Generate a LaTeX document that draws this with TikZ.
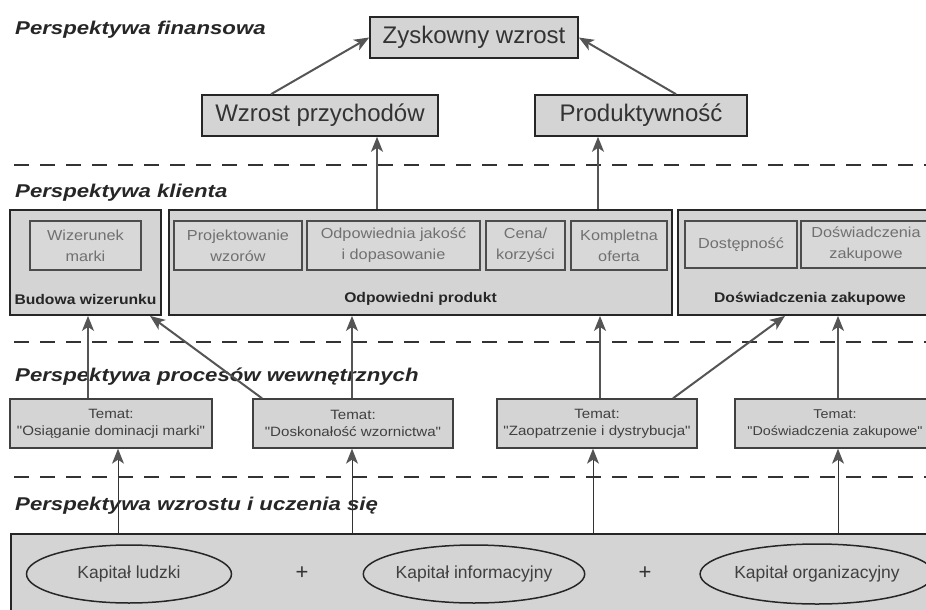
\documentclass[tikz,border=0pt]{standalone}
\usepackage{fontspec}
\setmainfont{Liberation Sans}
\newfontfamily\widef[FakeStretch=1.12]{Liberation Sans}
\newfontfamily\hdrf[FakeStretch=1.2]{Liberation Sans}
\usetikzlibrary{arrows.meta,shapes.geometric}
\definecolor{boxfill}{HTML}{D4D4D4}
\definecolor{innerfill}{HTML}{D8D8D8}
\definecolor{arrgray}{HTML}{555555}
\definecolor{innertext}{HTML}{707070}
\definecolor{proctext}{HTML}{404040}
\tikzset{
  bigbox/.style={draw=black!85,line width=1.6pt,fill=boxfill,inner sep=0pt,minimum height=41pt,
    font=\fontsize{24}{28}\selectfont,text=black!80},
  groupbox/.style={draw=black!85,line width=1.8pt,fill=boxfill,inner sep=0pt,minimum height=105pt},
  innerbox/.style={draw=black!70,line width=1.2pt,fill=innerfill,inner sep=0pt,minimum height=49pt,
    align=center,font=\widef\fontsize{14.5}{21}\selectfont,text=innertext},
  grouplabel/.style={font=\widef\bfseries\fontsize{14}{16}\selectfont,text=black!85,inner sep=0pt},
  procbox/.style={draw=black!75,line width=1.4pt,fill=boxfill,inner sep=0pt,minimum height=49pt,
    align=center,font=\widef\fontsize{13.5}{17}\selectfont,text=proctext},
  hdr/.style={anchor=west,inner sep=0pt,font=\hdrf\bfseries\itshape\fontsize{18.5}{20}\selectfont,text=black!85},
  oval/.style={ellipse,draw=black!85,line width=1.5pt,fill=boxfill,inner sep=0pt,
    font=\fontsize{17.5}{20}\selectfont,text=proctext},
  sep/.style={draw=black!80,line width=2pt,dash pattern=on 15pt off 11pt},
  arr/.style={draw=arrgray,line width=2pt,-{Stealth[length=15pt,width=12pt,inset=4pt]}},
  thinarr/.style={draw=black!80,line width=1pt,-{Stealth[length=15pt,width=12pt,inset=4pt,color=arrgray,fill=arrgray]}},
}
\begin{document}
\begin{tikzpicture}[x=1pt,y=-1pt]
\useasboundingbox (0,0) rectangle (926,610);
\clip (0,0) rectangle (926,610);

% separators
\coordinate (sL1) at (14,165); \coordinate (sR1) at (930,165);
\coordinate (sL2) at (14,342); \coordinate (sR2) at (930,342);
\coordinate (sL3) at (14,477); \coordinate (sR3) at (930,477);
\draw[sep] (sL1) -- (sR1);
\draw[sep] (sL2) -- (sR2);
\draw[sep] (sL3) -- (sR3);

% headers
\node[hdr] (h1) at (15,30) {Perspektywa finansowa};
\node[hdr] (h2) at (15,193) {Perspektywa klienta};
\node[hdr] (h3) at (15,377) {Perspektywa procesów wewnętrznych};
\node[hdr] (h4) at (15,506) {Perspektywa wzrostu i uczenia się};

% financial
\node[bigbox,minimum width=208pt] (zysk) at (474,37.5) {Zyskowny wzrost};
\node[bigbox,minimum width=236pt] (wp) at (320,115.5) {Wzrost przychodów};
\node[bigbox,minimum width=212pt] (prod) at (641,115.5) {Produktywność};

% customer
\node[groupbox,minimum width=151pt] (bud) at (85.5,262.5) {};
\node[groupbox,minimum width=503pt] (odp) at (420.5,262.5) {};
\node[groupbox,minimum width=264pt] (dosw) at (810,262.5) {};

\node[innerbox,minimum width=111pt] (wiz) at (85.5,245.5) {Wizerunek\\marki};
\node[innerbox,minimum width=128pt] (proj) at (238,245.5) {Projektowanie\\wzorów};
\node[innerbox,minimum width=173pt] (jak) at (393.5,245.5) {Odpowiednia jakość\\i dopasowanie};
\node[innerbox,minimum width=79pt] (cena) at (525.5,245.5) {Cena/\\korzyści};
\node[innerbox,minimum width=96pt] (komp) at (619,245.5) {Kompletna\\oferta};
\node[innerbox,minimum width=112pt,minimum height=47pt] (dost) at (741,244.5) {Dostępność};
\node[innerbox,minimum width=130pt,minimum height=47pt] (dz) at (866,244.5) {Doświadczenia\\zakupowe};

\node[grouplabel] (lbud) at (85.5,299) {Budowa wizerunku};
\node[grouplabel] (lodp) at (420.5,299) {Odpowiedni produkt};
\node[grouplabel] (ldos) at (810,299) {Doświadczenia zakupowe};

% internal processes
\node[procbox,minimum width=202pt] (p1) at (111,423.5) {Temat:\\"Osiąganie dominacji marki"};
\node[procbox,minimum width=200pt] (p2) at (353,423.5) {Temat:\\"Doskonałość wzornictwa"};
\node[procbox,minimum width=200pt] (p3) at (597,423.5) {Temat:\\"Zaopatrzenie i dystrybucja"};
\node[procbox,minimum width=200pt,font=\widef\fontsize{12.8}{17}\selectfont] (p4) at (835,423.5) {Temat:\\"Doświadczenia zakupowe"};

% learning & growth
\node[draw=black!85,line width=1.8pt,fill=boxfill,inner sep=0pt,minimum width=930pt,minimum height=90pt,anchor=north west] (base) at (10,533) {};
\node[oval,minimum width=205pt,minimum height=58pt] (e1) at (129,574) {Kapitał ludzki};
\node[oval,minimum width=203pt,minimum height=58pt] (e2) at (474,574) {Kapitał informacyjny};
\node[oval,minimum width=209pt,minimum height=60pt] (e3) at (817,574) {Kapitał organizacyjny};
\node[font=\fontsize{22}{22}\selectfont,text=black!80] (plus1) at (302,573) {+};
\node[font=\fontsize{22}{22}\selectfont,text=black!80] (plus2) at (645,573) {+};

% connector x positions
\coordinate (xA) at (377,0);
\coordinate (xB) at (598,0);
\coordinate (xC) at (271,0);
\coordinate (xD) at (676,0);
\coordinate (x1) at (88,0);
\coordinate (x2) at (262,0);
\coordinate (x2t) at (150,0);
\coordinate (x3) at (352,0);
\coordinate (x4) at (600,0);
\coordinate (x5) at (673,0);
\coordinate (x5t) at (785,0);
\coordinate (x6) at (838,0);
\coordinate (b1) at (118,0);
\coordinate (b2) at (352,0);
\coordinate (b3) at (593,0);
\coordinate (b4) at (838,0);

% financial arrows
\draw[arr] (wp.north -| xC) -- (zysk.west);
\draw[arr] (prod.north -| xD) -- (zysk.east);
\draw[arr] (odp.north -| xA) -- (wp.south -| xA);
\draw[arr] (odp.north -| xB) -- (prod.south -| xB);

% process -> customer
\draw[arr] (p1.north -| x1) -- (bud.south -| x1);
\draw[arr] (p2.north -| x2) -- (bud.south -| x2t);
\draw[arr] (p2.north -| x3) -- (odp.south -| x3);
\draw[arr] (p3.north -| x4) -- (odp.south -| x4);
\draw[arr] (p3.north -| x5) -- (dosw.south -| x5t);
\draw[arr] (p4.north -| x6) -- (dosw.south -| x6);

% learning -> process
\draw[thinarr] (base.north -| b1) -- (p1.south -| b1);
\draw[thinarr] (base.north -| b2) -- (p2.south -| b2);
\draw[thinarr] (base.north -| b3) -- (p3.south -| b3);
\draw[thinarr] (base.north -| b4) -- (p4.south -| b4);
\end{tikzpicture}
\end{document}
